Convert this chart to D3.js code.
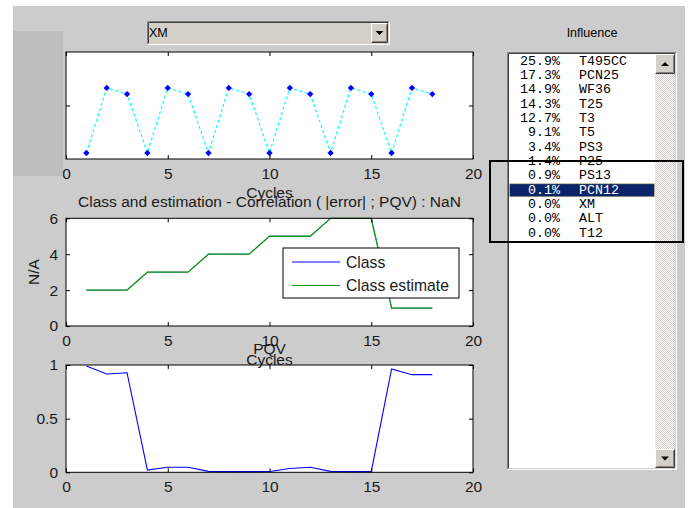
<!DOCTYPE html>
<html>
<head>
<meta charset="utf-8">
<script src="https://cdn.jsdelivr.net/npm/d3@7"></script>
<style>
  body { margin: 0; background: #fff; }
  svg { display: block; }
  .tick text { font-family: "Liberation Sans", Arial, sans-serif; font-size: 15.5px; fill: #1a1a1a; }
</style>
</head>
<body>
<div id="fig"></div>
<script>
// données
const cycles = [1, 2, 3, 4, 5, 6, 7, 8, 9, 10, 11, 12, 13, 14, 15, 16, 17, 18];
const xmValues = [0.056, 0.664, 0.607, 0.056, 0.664, 0.607, 0.056, 0.664, 0.607, 0.056, 0.664, 0.607, 0.056, 0.664, 0.607, 0.056, 0.664, 0.607];
const classValues = [2, 2, 2, 3, 3, 3, 4, 4, 4, 5, 5, 5, 6, 6, 6, 1, 1, 1];
const estimateValues = [2, 2, 2, 3, 3, 3, 4, 4, 4, 5, 5, 5, 6, 6, 6, 1, 1, 1];
const pqvValues = [0.99, 0.916, 0.928, 0.021, 0.047, 0.047, 0.009, 0.006, 0.006, 0.008, 0.035, 0.047, 0.009, 0.006, 0.006, 0.963, 0.91, 0.91];
const xTicks = [0, 5, 10, 15, 20];
const classTicks = [0, 2, 4, 6];
const pqvTicks = [0, 0.5, 1];
const influencePct = [25.9, 17.3, 14.9, 14.3, 12.7, 9.1, 3.4, 1.4, 0.9, 0.1, 0.0, 0.0, 0.0];
const influenceNames = ["T495CC", "PCN25", "WF36", "T25", "T3", "T5", "PS3", "P25", "PS13", "PCN12", "XM", "ALT", "T12"];
const selectedIndex = 9;
const legendLabels = ["Class", "Class estimate"];
const legendColors = ["#0000ff", "#008000"];

const W = 691, H = 508;
const font = '"Liberation Sans", Arial, sans-serif';

const svg = d3.select("#fig").append("svg")
    .attr("width", W)
    .attr("height", H);

// fond de la figure
svg.append("rect").attr("width", W).attr("height", H).attr("fill", "#fff");
svg.append("rect")
    .attr("x", 13).attr("y", 6)
    .attr("width", 672).attr("height", H - 6)
    .attr("fill", "#cccccc");

// motif de la barre de défilement
const defs = svg.append("defs");
const pat = defs.append("pattern")
    .attr("id", "trough")
    .attr("width", 2).attr("height", 2)
    .attr("patternUnits", "userSpaceOnUse");
pat.append("rect").attr("width", 2).attr("height", 2).attr("fill", "#ffffff");
pat.append("rect").attr("width", 1).attr("height", 1).attr("fill", "#d4d0c8");
pat.append("rect").attr("x", 1).attr("y", 1).attr("width", 1).attr("height", 1).attr("fill", "#d4d0c8");

// axes partagés
const left = 66, right = 473;
const x = d3.scaleLinear().domain([0, 20]).range([left, right]);

function drawAxes(top, bottom) {
    const g = svg.append("g");
    g.append("rect")
        .attr("x", left).attr("y", top)
        .attr("width", right - left).attr("height", bottom - top)
        .attr("fill", "#fff");
    return g;
}

function finishAxes(g, top, bottom, y, yTicks, showYLabels) {
    const ax = g.append("g").attr("transform", "translate(0," + bottom + ")")
        .call(d3.axisBottom(x).tickValues(xTicks).tickSize(-4).tickPadding(8.5));
    const axT = g.append("g").attr("transform", "translate(0," + top + ")")
        .call(d3.axisTop(x).tickValues(xTicks).tickSize(-4).tickFormat(""));
    const ay = g.append("g").attr("transform", "translate(" + left + ",0)")
        .call(d3.axisLeft(y).tickValues(yTicks).tickSize(-4).tickPadding(8)
            .tickFormat(showYLabels ? d3.format("") : ""));
    const ayR = g.append("g").attr("transform", "translate(" + right + ",0)")
        .call(d3.axisRight(y).tickValues(yTicks).tickSize(-4).tickFormat(""));
    [ax, axT, ay, ayR].forEach(a => {
        a.select(".domain").remove();
        a.selectAll(".tick line").attr("stroke", "#000");
    });
    g.append("rect")
        .attr("x", left).attr("y", top)
        .attr("width", right - left).attr("height", bottom - top)
        .attr("fill", "none")
        .attr("stroke", "#000")
        .attr("stroke-width", 1);
}

function label(txt, cx, cy, size, opts) {
    const t = svg.append("text")
        .attr("x", cx).attr("y", cy)
        .attr("text-anchor", "middle")
        .attr("dominant-baseline", "central")
        .style("font-family", font)
        .style("font-size", size + "px")
        .style("fill", "#1a1a1a")
        .text(txt);
    if (opts && opts.rotate) t.attr("transform", "rotate(-90," + cx + "," + cy + ")");
    return t;
}

// graphe 1 : XM
const y1 = d3.scaleLinear().domain([0, 1]).range([159, 52]);
const g1 = drawAxes(52, 159);
g1.append("path")
    .datum(cycles)
    .attr("fill", "none")
    .attr("stroke", "#00ffff")
    .attr("stroke-width", 1.2)
    .attr("stroke-dasharray", "3,2.5")
    .attr("d", d3.line().x(d => x(d)).y((d, i) => y1(xmValues[i])));
g1.selectAll(".pt")
    .data(cycles)
    .enter().append("path")
    .attr("class", "pt")
    .attr("transform", (d, i) => "translate(" + x(d) + "," + y1(xmValues[i]) + ") rotate(45)")
    .attr("d", d3.symbol().type(d3.symbolSquare).size(20))
    .attr("fill", "#0000ff");
finishAxes(g1, 52, 159, y1, [0.5], false);

// graphe 2 : classe et estimation
const y2 = d3.scaleLinear().domain([0, 6]).range([326, 218.3]);
const g2 = drawAxes(218.3, 326);
g2.append("path")
    .datum(cycles)
    .attr("fill", "none")
    .attr("stroke", legendColors[0])
    .attr("stroke-width", 0.6)
    .attr("d", d3.line().x(d => x(d)).y((d, i) => y2(classValues[i])));
g2.append("path")
    .datum(cycles)
    .attr("fill", "none")
    .attr("stroke", "#119911")
    .attr("stroke-width", 1.3)
    .attr("d", d3.line().x(d => x(d)).y((d, i) => y2(estimateValues[i])));
finishAxes(g2, 218.3, 326, y2, classTicks, true);

// légende
const leg = g2.append("g").attr("transform", "translate(283,248)");
leg.append("rect")
    .attr("width", 176).attr("height", 50)
    .attr("fill", "#fff")
    .attr("stroke", "#000");
legendLabels.forEach((l, i) => {
    const ly = 14 + i * 23.5;
    leg.append("line")
        .attr("x1", 9).attr("x2", 57)
        .attr("y1", ly).attr("y2", ly)
        .attr("stroke", i === 0 ? legendColors[0] : "#119911")
        .attr("stroke-width", 1.2);
    leg.append("text")
        .attr("x", 63).attr("y", ly)
        .attr("dominant-baseline", "central")
        .style("font-family", font)
        .style("font-size", "15.7px")
        .style("fill", "#1a1a1a")
        .text(l);
});

// graphe 3 : PQV
const y3 = d3.scaleLinear().domain([0, 1]).range([472.3, 365]);
const g3 = drawAxes(365, 472.3);
g3.append("path")
    .datum(cycles)
    .attr("fill", "none")
    .attr("stroke", "#0000ff")
    .attr("stroke-width", 1.1)
    .attr("d", d3.line().x(d => x(d)).y((d, i) => y3(pqvValues[i])));
finishAxes(g3, 365, 472.3, y3, pqvTicks, true);

// titres et libellés
const cx = (left + right) / 2;
label("Cycles", cx, 192, 15.5);
label("Class and estimation - Correlation ( |error| ; PQV) : NaN", cx, 201.5, 15.5);
label("N/A", 33, 272, 15.5, { rotate: true });
label("PQV", cx, 348.5, 15.5);
label("Cycles", cx, 359.5, 15.5);

// panneau gris à gauche (masque le 0 du premier axe)
svg.append("rect")
    .attr("x", 13).attr("y", 31)
    .attr("width", 50).attr("height", 145)
    .attr("fill", "#bebebe");

// menu déroulant
function bevel(g, x0, y0, w, h, sunken) {
    const tl = sunken ? "#808080" : "#ffffff";
    const br = sunken ? "#ffffff" : "#404040";
    g.append("path").attr("d", `M${x0},${y0 + h}V${y0}H${x0 + w}`).attr("fill", "none").attr("stroke", tl);
    g.append("path").attr("d", `M${x0},${y0 + h}H${x0 + w}V${y0}`).attr("fill", "none").attr("stroke", br);
    g.append("path").attr("d", `M${x0 + 1},${y0 + h - 1}V${y0 + 1}H${x0 + w - 1}`).attr("fill", "none").attr("stroke", sunken ? "#404040" : "#d4d0c8");
    g.append("path").attr("d", `M${x0 + 1},${y0 + h - 1}H${x0 + w - 1}V${y0 + 1}`).attr("fill", "none").attr("stroke", sunken ? "#d4d0c8" : "#808080");
}
function arrowButton(g, x0, y0, w, h, up) {
    g.append("rect").attr("x", x0).attr("y", y0).attr("width", w).attr("height", h).attr("fill", "#d4d0c8");
    bevel(g, x0 + 0.5, y0 + 0.5, w - 1, h - 1, false);
    const mx = x0 + w / 2, my = y0 + h / 2;
    const p = up ? `M${mx - 4},${my + 2}L${mx + 4},${my + 2}L${mx},${my - 2}Z`
                 : `M${mx - 4},${my - 2}L${mx + 4},${my - 2}L${mx},${my + 2}Z`;
    g.append("path").attr("d", p).attr("fill", "#000");
}
const dd = svg.append("g");
dd.append("rect").attr("x", 147).attr("y", 21).attr("width", 243).attr("height", 24).attr("fill", "#d4d0c8");
bevel(dd, 147.5, 21.5, 242, 23, true);
arrowButton(dd, 371, 23, 17, 20, false);
dd.append("text")
    .attr("x", 149).attr("y", 33)
    .attr("dominant-baseline", "central")
    .style("font-family", font)
    .style("font-size", "12.5px")
    .style("fill", "#000")
    .text("XM");

// liste des influences
label("Influence", 592, 33, 12.5).style("fill", "#000");
const lb = svg.append("g");
lb.append("rect").attr("x", 507).attr("y", 52).attr("width", 170).attr("height", 418).attr("fill", "#fff");
bevel(lb, 507.5, 52.5, 169, 417, true);
lb.append("rect").attr("x", 655).attr("y", 54).attr("width", 20).attr("height", 414).attr("fill", "url(#trough)");
arrowButton(lb, 655, 54, 20, 20, true);
arrowButton(lb, 655, 449, 20, 19, false);

const rowY = d3.scaleLinear().domain([0, 12]).range([61, 233.3]);
lb.append("rect")
    .attr("x", 509.5).attr("y", rowY(selectedIndex) - 6.5)
    .attr("width", 145).attr("height", 13)
    .attr("fill", "#0a246a")
    .attr("stroke", "#d8c878")
    .attr("stroke-dasharray", "1,1");
influenceNames.forEach((name, i) => {
    const col = i === selectedIndex ? "#fff" : "#000";
    lb.append("text")
        .attr("x", 560).attr("y", rowY(i))
        .attr("text-anchor", "end")
        .attr("dominant-baseline", "central")
        .style("font-family", '"Liberation Mono", "Courier New", monospace')
        .style("font-size", "13.3px")
        .style("fill", col)
        .text(influencePct[i].toFixed(1) + "%");
    lb.append("text")
        .attr("x", 579).attr("y", rowY(i))
        .attr("dominant-baseline", "central")
        .style("font-family", '"Liberation Mono", "Courier New", monospace')
        .style("font-size", "13.3px")
        .style("fill", col)
        .text(name);
});

// cadre noir de mise en évidence
svg.append("rect")
    .attr("x", 490).attr("y", 161)
    .attr("width", 193).attr("height", 81)
    .attr("fill", "none")
    .attr("stroke", "#000")
    .attr("stroke-width", 2);
</script>
</body>
</html>
